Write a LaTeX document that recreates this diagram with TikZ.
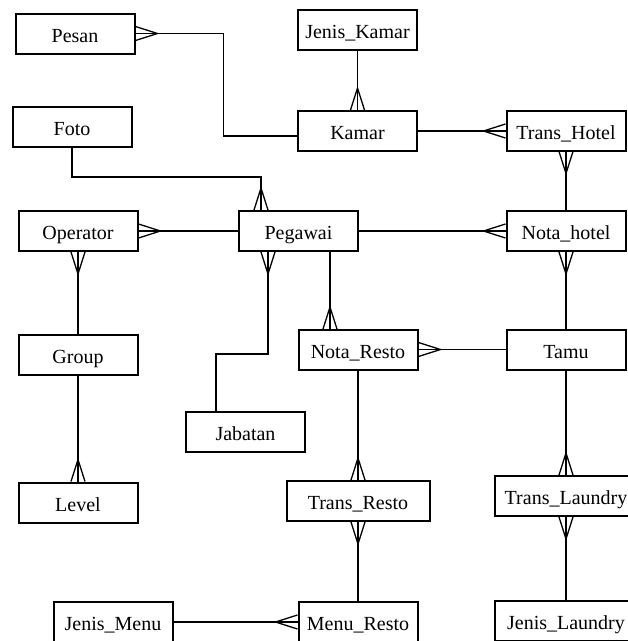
\documentclass[tikz,border=0pt]{standalone}
\usepackage{fontspec}
\setmainfont{Liberation Serif}
\usetikzlibrary{calc}

% crow's foot: #1 = point on the box edge, #2 = direction (degrees) pointing away from the box
\newcommand\crowfoot[2]{%
  \begin{scope}[shift={#1}, rotate=#2]
    \draw[link] (0pt,-7pt) -- (22pt,0pt) -- (0pt,7pt);
  \end{scope}}

\begin{document}
\begin{tikzpicture}[x=1pt, y=-1pt,
  entity/.style={draw, line width=2pt, minimum width=119pt, minimum height=40pt,
    inner sep=0pt, text height=18pt, text depth=1pt, font=\fontsize{20}{22}\selectfont},
  wide/.style={entity, minimum width=143pt},
  link/.style={line width=1.3pt}]
\useasboundingbox (0,0) rectangle (628,641);
\clip (0,0) rectangle (628,641);

% entities
\node[entity] (pesan)    at (75,33.5)   {Pesan};
\node[entity] (jkamar)   at (357.5,30)  {Jenis\_Kamar};
\node[entity] (foto)     at (72,127)    {Foto};
\node[entity] (kamar)    at (357.5,131) {Kamar};
\node[entity] (thotel)   at (566,130.5) {Trans\_Hotel};
\node[entity] (operator) at (78,231)    {Operator};
\node[entity] (pegawai)  at (298.5,231) {Pegawai};
\node[entity] (nhotel)   at (566,231)   {Nota\_hotel};
\node[entity] (group)    at (78,354.5)  {Group};
\node[entity] (nresto)   at (358,350)   {Nota\_Resto};
\node[entity] (tamu)     at (566,349.5) {Tamu};
\node[entity] (jabatan)  at (245.5,432) {Jabatan};
\node[entity] (level)    at (78,502.5)  {Level};
\node[wide]   (tresto)   at (358,501)   {Trans\_Resto};
\node[wide]   (tlaundry) at (566,496)   {Trans\_Laundry};
\node[entity] (jmenu)    at (113,622)   {Jenis\_Menu};
\node[entity] (mresto)   at (358,622)   {Menu\_Resto};
\node[wide]   (jlaundry) at (566,621)   {Jenis\_Laundry};

% relationships
\draw[link] (pesan.east) -- ++(88,0) |- ([yshift=-5pt]kamar.west);
\crowfoot{(pesan.east)}{0}

\draw[link] (jkamar.south) -- (kamar.north);
\crowfoot{(kamar.north)}{90}

\draw[link] (kamar.east) -- (thotel.west |- kamar.east);
\crowfoot{(thotel.west |- kamar.east)}{180}

\draw[link] (thotel.south) -- (nhotel.north);
\crowfoot{(thotel.south)}{-90}

\draw[link] (foto.south) -- ++(0,29) -| ([xshift=-37.5pt]pegawai.north);
\crowfoot{([xshift=-37.5pt]pegawai.north)}{90}

\draw[link] (operator.east) -- (pegawai.west);
\crowfoot{(operator.east)}{0}

\draw[link] (pegawai.east) -- (nhotel.west);
\crowfoot{(nhotel.west)}{180}

\draw[link] (operator.south) -- (group.north);
\crowfoot{(operator.south)}{-90}

\draw[link] (group.south) -- (level.north);
\crowfoot{(level.north)}{90}

\draw[link] ([xshift=-30.5pt]pegawai.south) -- ++(0,102) -| ([xshift=-29.5pt]jabatan.north);
\crowfoot{([xshift=-30.5pt]pegawai.south)}{-90}

\draw[link] ([xshift=31.5pt]pegawai.south) -- ([xshift=-28pt]nresto.north);
\crowfoot{([xshift=-28pt]nresto.north)}{90}

\draw[link] (tamu.west) -- (nresto.east |- tamu.west);
\crowfoot{(nresto.east |- tamu.west)}{0}

\draw[link] (nhotel.south) -- (tamu.north);
\crowfoot{(nhotel.south)}{-90}

\draw[link] (nresto.south) -- (tresto.north);
\crowfoot{(tresto.north)}{90}

\draw[link] (tresto.south) -- (mresto.north);
\crowfoot{(tresto.south)}{-90}

\draw[link] (jmenu.east) -- (mresto.west);
\crowfoot{(mresto.west)}{180}

\draw[link] (tamu.south) -- (tlaundry.north);
\crowfoot{(tlaundry.north)}{90}

\draw[link] (tlaundry.south) -- (jlaundry.north);
\crowfoot{(tlaundry.south)}{-90}
\end{tikzpicture}
\end{document}
